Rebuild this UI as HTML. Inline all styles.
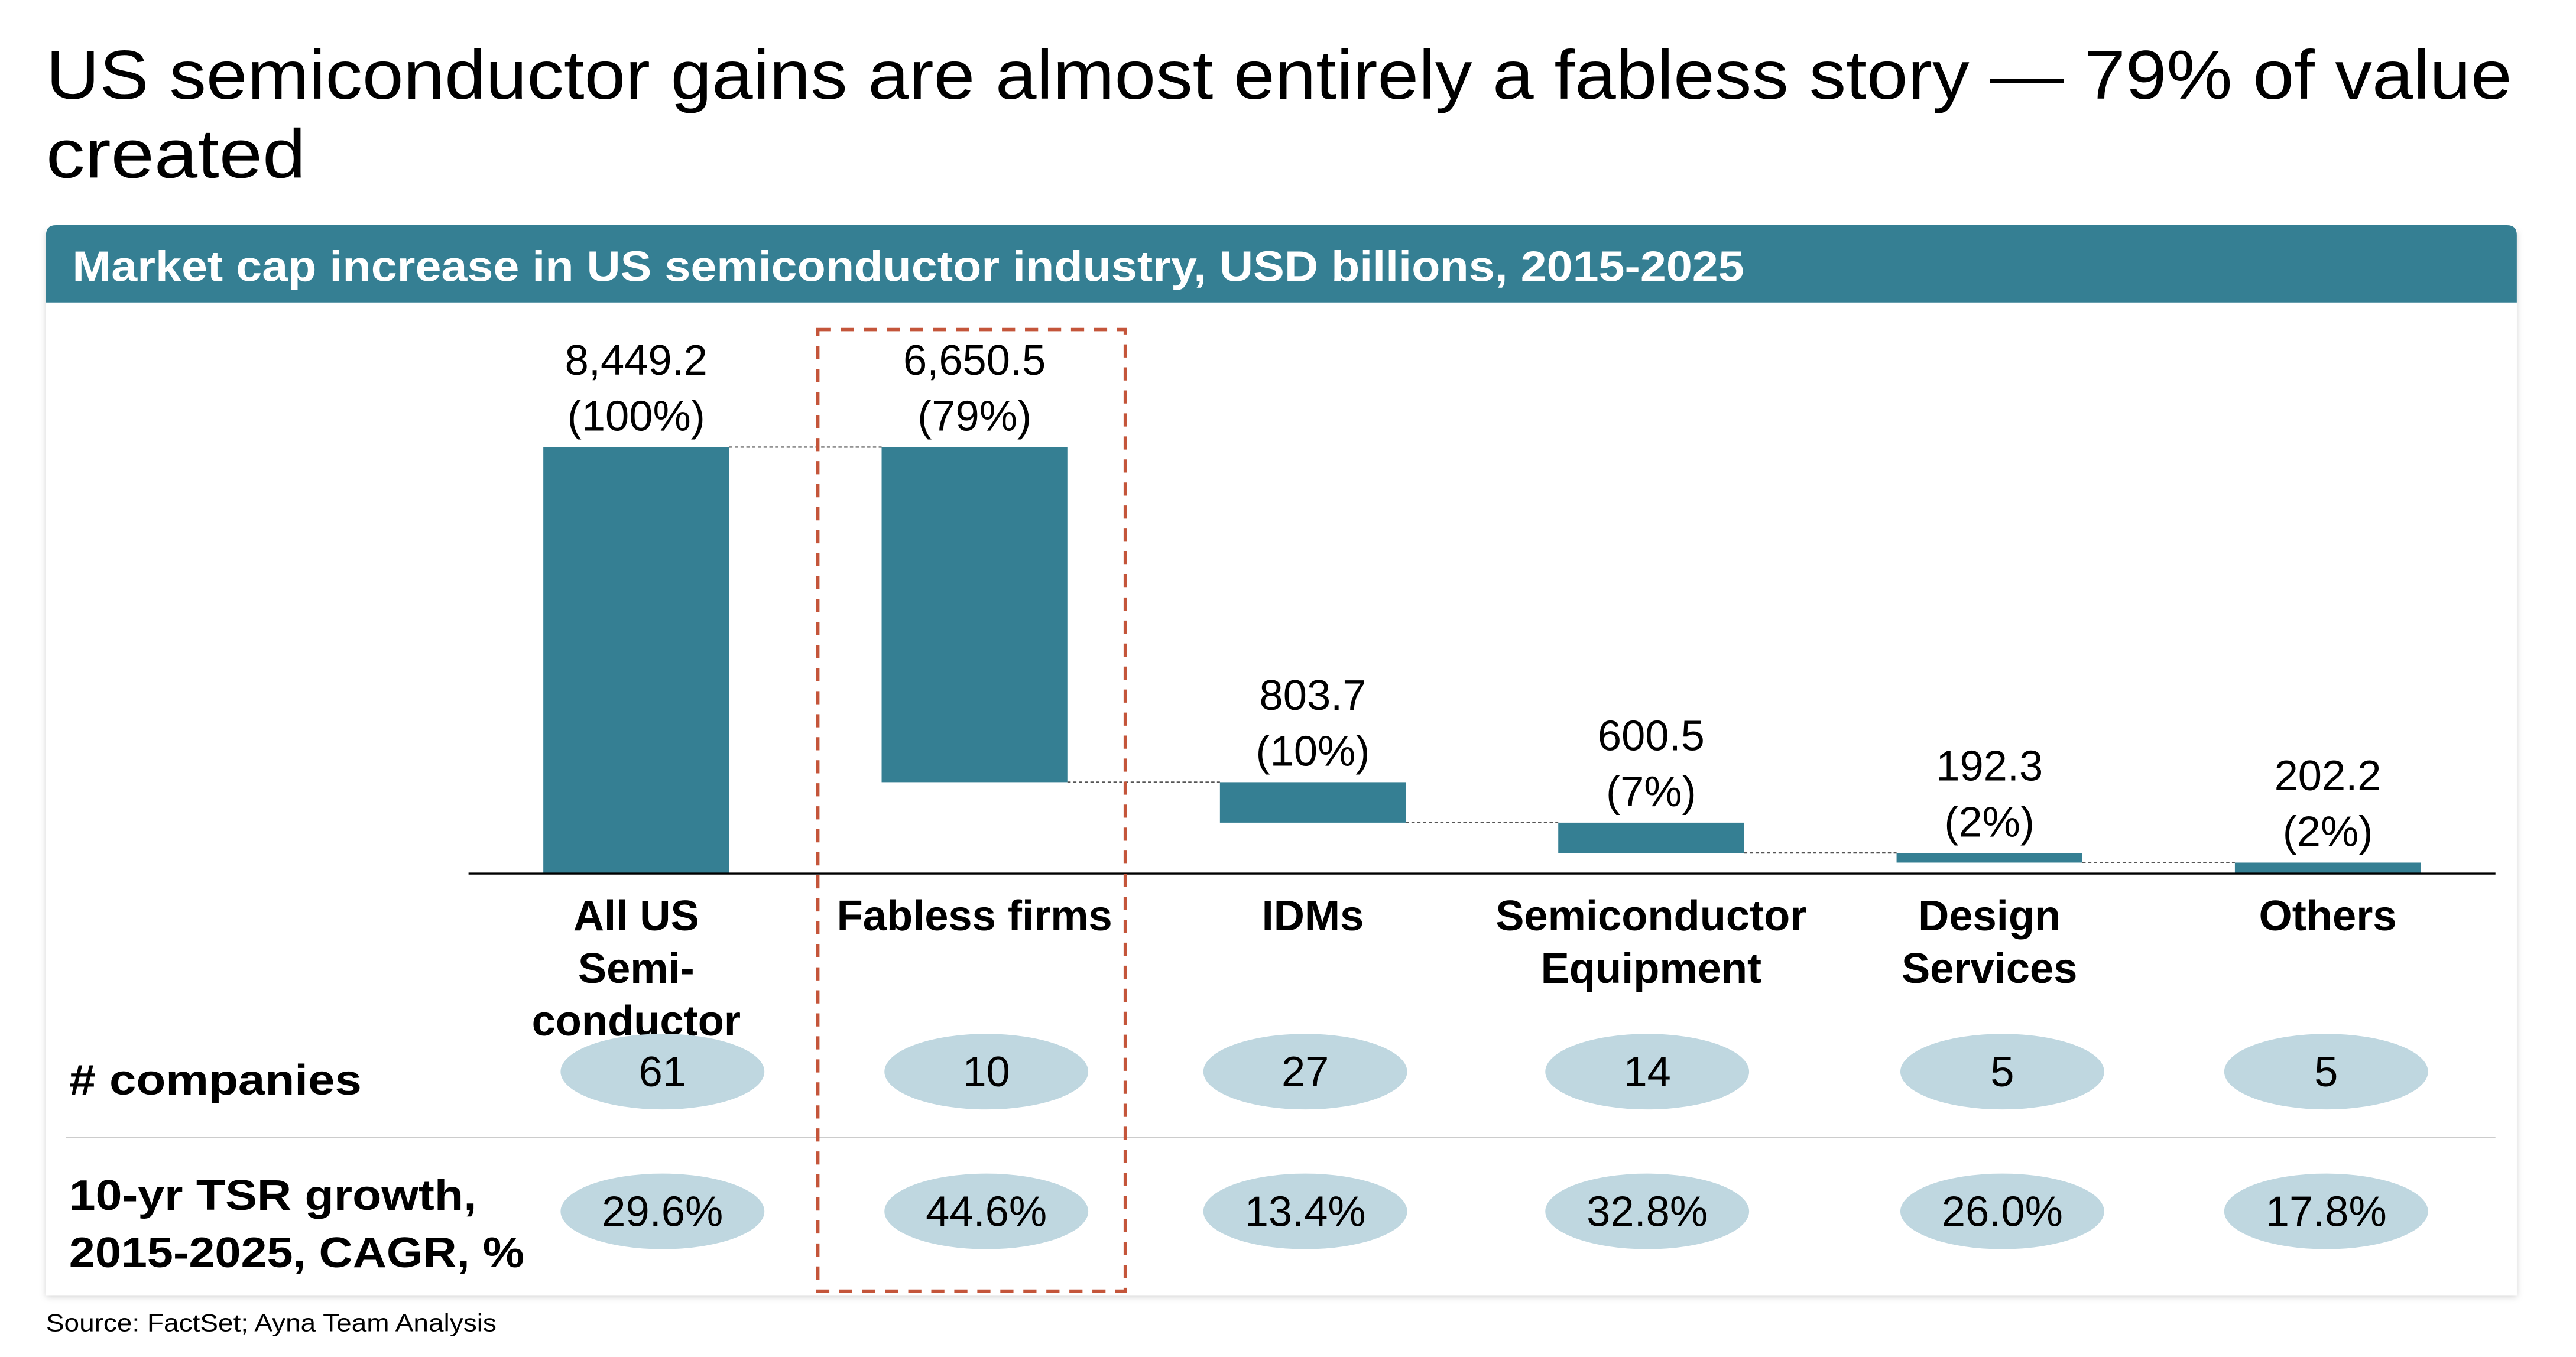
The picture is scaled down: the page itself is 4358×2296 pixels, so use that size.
<!DOCTYPE html>
<html><head><meta charset="utf-8"><style>
html,body{margin:0;padding:0;background:#fff}
svg{display:block}
text{font-family:"Liberation Sans",sans-serif}
</style></head><body>
<svg id="chart" width="4358" height="2296" viewBox="0 0 1567 825.6" preserveAspectRatio="none" xmlns="http://www.w3.org/2000/svg">
<defs><filter id="sh" x="-2%" y="-2%" width="104%" height="104%"><feDropShadow dx="0" dy="1" stdDeviation="2" flood-color="#000" flood-opacity="0.18"/></filter></defs>
<text x="28" y="60" font-size="42" textLength="1500" lengthAdjust="spacingAndGlyphs">US semiconductor gains are almost entirely a fabless story — 79% of value</text>
<text x="28" y="108" font-size="42" textLength="158" lengthAdjust="spacingAndGlyphs">created</text>
<rect x="28" y="140" width="1503" height="648" fill="#fff" filter="url(#sh)"/>
<path d="M28,184 V143 Q28,137 34,137 H1525 Q1531,137 1531,143 V184 Z" fill="#357f93"/>
<text x="44" y="171" font-size="26" font-weight="bold" fill="#fff" textLength="1017" lengthAdjust="spacingAndGlyphs">Market cap increase in US semiconductor industry, USD billions, 2015-2025</text>
<g id="plot"></g>
<line x1="40" y1="692" x2="1518" y2="692" stroke="#ccc" stroke-width="1"/>
<text x="42" y="666" font-size="26" font-weight="bold" textLength="178" lengthAdjust="spacingAndGlyphs"># companies</text>
<text x="42" y="736" font-size="26" font-weight="bold" textLength="248" lengthAdjust="spacingAndGlyphs">10-yr TSR growth,</text>
<text x="42" y="771" font-size="26" font-weight="bold" textLength="277" lengthAdjust="spacingAndGlyphs">2015-2025, CAGR, %</text>
<rect x="497.5" y="200.5" width="187" height="585" fill="none" stroke="#c4553a" stroke-width="2" stroke-dasharray="8,6"/>
<text x="28" y="810" font-size="15" textLength="274" lengthAdjust="spacingAndGlyphs">Source: FactSet; Ayna Team Analysis</text>
</svg>
<script>
const categories = [["All US","Semi-","conductor"],["Fabless firms"],["IDMs"],["Semiconductor","Equipment"],["Design","Services"],["Others"]];
const values = [8449.2, 6650.5, 803.7, 600.5, 192.3, 202.2];
const valueLabels = ["8,449.2","6,650.5","803.7","600.5","192.3","202.2"];
const pctLabels = ["(100%)","(79%)","(10%)","(7%)","(2%)","(2%)"];
const companies = ["61","10","27","14","5","5"];
const tsr = ["29.6%","44.6%","13.4%","32.8%","26.0%","17.8%"];

const NS = "http://www.w3.org/2000/svg";
const g = document.getElementById('plot');
const baseY = 531, plotH = 259, x0 = 387, step = 205.8, barW = 113;
const total = values[0];
const yScale = v => baseY - v / total * plotH;
const xC = i => x0 + i * step;
function mk(tag, attrs, txt){const e=document.createElementNS(NS,tag);for(const k in attrs)e.setAttribute(k,attrs[k]);if(txt!==undefined)e.textContent=txt;g.appendChild(e);return e;}

const ranges = [];
let cur = total;
values.forEach((v,i)=>{
  if(i===0){ranges.push([0,v]);}
  else {ranges.push([cur-v,cur]); cur-=v;}
});
ranges.forEach((r,i)=>{
  const top=yScale(r[1]), bot=yScale(r[0]);
  const b=mk('rect',{x:xC(i)-barW/2,y:top,width:barW,height:Math.max(bot-top,1),fill:'#357f93'});
  
  
  if(i<ranges.length-1){
    const ny = i===0 ? yScale(ranges[0][1]) : yScale(r[0]);
    const c=mk('line',{x1:xC(i)+barW/2,y1:ny,x2:xC(i+1)-barW/2,y2:ny,stroke:'#555','stroke-width':0.8,'stroke-dasharray':'2,1.5'});
    
    
  }
  const t1=mk('text',{x:xC(i),y:top-44,'font-size':26,'text-anchor':'middle'},valueLabels[i]);
  
  
  const t2=mk('text',{x:xC(i),y:top-10,'font-size':26,'text-anchor':'middle'},pctLabels[i]);
  
  
  categories[i].forEach((ln,j)=>{
    const c=mk('text',{x:xC(i),y:566+j*32,'font-size':26,'font-weight':'bold','text-anchor':'middle'},ln);
    
    
  });
  const ex = [403,600,794,1002,1218,1415][i];
  const e1=mk('ellipse',{cx:ex,cy:652,rx:62,ry:23,fill:'#bfd7e0'});
  
  
  const ct=mk('text',{x:ex,y:661,'font-size':26,'text-anchor':'middle'},companies[i]);
  
  
  const e2=mk('ellipse',{cx:ex,cy:737,rx:62,ry:23,fill:'#bfd7e0'});
  
  
  const tt=mk('text',{x:ex,y:746,'font-size':26,'text-anchor':'middle'},tsr[i]);
  
  
});
const ax=mk('line',{x1:285,y1:baseY+0.5,x2:1518,y2:baseY+0.5,stroke:'#000','stroke-width':1.2});


</script>
</body></html>
